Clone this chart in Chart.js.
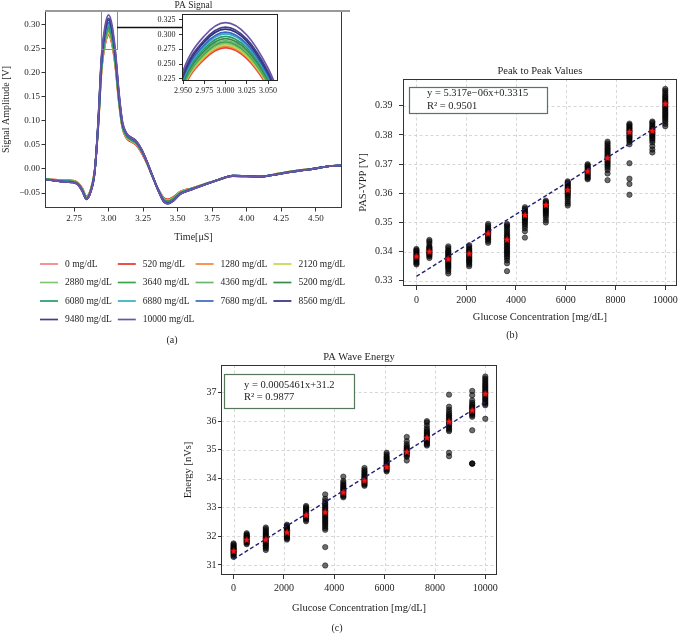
<!DOCTYPE html>
<html><head><meta charset="utf-8">
<script src="https://cdn.jsdelivr.net/npm/chart.js@4.4.1/dist/chart.umd.min.js"></script>
<style>
html,body{margin:0;padding:0;background:#fff;}
#wrap{position:relative;width:682px;height:635px;background:#fff;overflow:hidden;}
#wrap canvas{position:absolute;left:0;top:0;}
</style></head><body>
<div id="wrap">
<canvas id="cA" width="682" height="635"></canvas>
<canvas id="cI" width="682" height="635"></canvas>
<canvas id="cB" width="682" height="635"></canvas>
<canvas id="cC" width="682" height="635"></canvas>
</div>
<script>
// ---------------- DATA ----------------
const concentrations = [0, 520, 1280, 2120, 2880, 3640, 4360, 5200, 6080, 6880, 7680, 8560, 9480, 10000];
const seriesLabels = concentrations.map(c => c + ' mg/dL');
const seriesColors = ['#f28080', '#e53228', '#f3823f', '#c5d64a', '#82c874', '#3aa24a', '#6db56e', '#3b8a4a',
                      '#27996a', '#35aec0', '#3a66c4', '#2e2f7e', '#414189', '#6b55a8'];

// PA signal: time samples [µs]
const timeUs = [2.54, 2.60, 2.65, 2.70, 2.74, 2.78, 2.81, 2.84, 2.87, 2.90,
                2.925, 2.95, 2.975, 3.00, 3.025, 3.05, 3.075, 3.10,
                3.13, 3.16, 3.20, 3.24, 3.28, 3.32, 3.36, 3.40, 3.43, 3.47, 3.52, 3.60, 3.70,
                3.80, 3.90, 4.00, 4.10, 4.20, 4.30, 4.40, 4.50, 4.60, 4.69];
// which off-peak trace group each concentration follows
const seriesLevel = [0, 0, 1, 1, 1, 2, 2, 2, 3, 3, 3, 4, 4, 4];
// signal before the peak (2.54 .. 2.90)
const pulsePre = [
  [-0.020, -0.022, -0.023, -0.023, -0.024, -0.029, -0.040, -0.057, -0.043, -0.002],
  [-0.0205, -0.0225, -0.024, -0.024, -0.025, -0.030, -0.0415, -0.0585, -0.044, -0.003],
  [-0.021, -0.023, -0.0245, -0.025, -0.026, -0.031, -0.043, -0.060, -0.0455, -0.004],
  [-0.0215, -0.0235, -0.025, -0.026, -0.027, -0.032, -0.0445, -0.0615, -0.047, -0.005],
  [-0.022, -0.024, -0.026, -0.027, -0.028, -0.033, -0.046, -0.063, -0.048, -0.006]
];
// peak of each concentration (2.925 .. 3.10)
const pulsePeak = [
  [0.0860, 0.2067, 0.2581, 0.2775, 0.2595, 0.2109, 0.1388, 0.0860],
  [0.0863, 0.2075, 0.2590, 0.2785, 0.2604, 0.2117, 0.1393, 0.0863],
  [0.0868, 0.2086, 0.2604, 0.2800, 0.2618, 0.2128, 0.1400, 0.0868],
  [0.0876, 0.2105, 0.2627, 0.2825, 0.2641, 0.2147, 0.1413, 0.0876],
  [0.0884, 0.2123, 0.2651, 0.2850, 0.2665, 0.2166, 0.1425, 0.0884],
  [0.0891, 0.2142, 0.2674, 0.2875, 0.2688, 0.2185, 0.1438, 0.0891],
  [0.0899, 0.2161, 0.2697, 0.2900, 0.2712, 0.2204, 0.1450, 0.0899],
  [0.0908, 0.2183, 0.2725, 0.2930, 0.2740, 0.2227, 0.1465, 0.0908],
  [0.0921, 0.2213, 0.2762, 0.2970, 0.2777, 0.2257, 0.1485, 0.0921],
  [0.0933, 0.2242, 0.2799, 0.3010, 0.2814, 0.2288, 0.1505, 0.0933],
  [0.0942, 0.2265, 0.2827, 0.3040, 0.2842, 0.2310, 0.1520, 0.0942],
  [0.0958, 0.2302, 0.2874, 0.3090, 0.2889, 0.2348, 0.1545, 0.0958],
  [0.0969, 0.2328, 0.2906, 0.3125, 0.2922, 0.2375, 0.1563, 0.0969],
  [0.0992, 0.2384, 0.2976, 0.3200, 0.2992, 0.2432, 0.1600, 0.0992]
];
// signal after the peak (3.13 .. 4.69)
const pulsePost = [
  [0.064, 0.057, 0.050, 0.033, 0.010, -0.017, -0.042, -0.060, -0.063, -0.058, -0.047, -0.040, -0.031, -0.022, -0.015, -0.016, -0.016, -0.011, -0.006, -0.002, 0.001, 0.006, 0.007],
  [0.0665, 0.059, 0.052, 0.035, 0.011, -0.017, -0.043, -0.062, -0.065, -0.060, -0.048, -0.041, -0.031, -0.022, -0.015, -0.016, -0.016, -0.011, -0.006, -0.002, 0.001, 0.006, 0.007],
  [0.069, 0.0615, 0.054, 0.0365, 0.012, -0.0165, -0.0435, -0.064, -0.0675, -0.062, -0.0495, -0.0415, -0.0315, -0.022, -0.0145, -0.0155, -0.016, -0.0115, -0.0065, -0.0025, 0.001, 0.006, 0.007],
  [0.0715, 0.064, 0.056, 0.038, 0.013, -0.016, -0.044, -0.066, -0.070, -0.064, -0.051, -0.042, -0.032, -0.022, -0.014, -0.015, -0.016, -0.012, -0.007, -0.003, 0.001, 0.006, 0.007],
  [0.074, 0.066, 0.058, 0.040, 0.014, -0.016, -0.045, -0.068, -0.072, -0.066, -0.052, -0.043, -0.032, -0.022, -0.014, -0.015, -0.016, -0.012, -0.007, -0.003, 0.001, 0.006, 0.007]
];
const zoomBox = [2.943, 3.062, 0.25, 0.335];   // [x0, x1, y0, y1] of the zoomed region
const zoomLinkY = 0.295;

const aXTicks = [2.75, 3.00, 3.25, 3.50, 3.75, 4.00, 4.25, 4.50];
const aYTicks = [-0.05, 0.00, 0.05, 0.10, 0.15, 0.20, 0.25, 0.30];
const insetXTicks = [2.950, 2.975, 3.000, 3.025, 3.050];
const insetYTicks = [0.225, 0.250, 0.275, 0.300, 0.325];

// Peak-to-peak values [V]
const ppMeans = [0.3383, 0.3400, 0.3374, 0.3393, 0.3462, 0.3441, 0.3525, 0.3560, 0.3611, 0.3675, 0.3721, 0.3810, 0.3814, 0.3907];
const ppSamples = [
  [0.3356, 0.3360, 0.3364, 0.3368, 0.3372, 0.3376, 0.3380, 0.3383, 0.3386, 0.3390, 0.3394, 0.3398, 0.3402, 0.3405, 0.3409],
  [0.3378, 0.3384, 0.3388, 0.3391, 0.3394, 0.3397, 0.3400, 0.3403, 0.3406, 0.3409, 0.3412, 0.3415, 0.3419, 0.3428, 0.3435, 0.3440],
  [0.3325, 0.3333, 0.3340, 0.3345, 0.3349, 0.3353, 0.3357, 0.3361, 0.3365, 0.3369, 0.3373, 0.3377, 0.3381, 0.3385, 0.3389, 0.3393, 0.3397, 0.3401, 0.3405, 0.3412, 0.3418],
  [0.3350, 0.3356, 0.3362, 0.3366, 0.3370, 0.3374, 0.3378, 0.3382, 0.3386, 0.3390, 0.3394, 0.3398, 0.3402, 0.3406, 0.3410, 0.3416, 0.3422],
  [0.3430, 0.3436, 0.3442, 0.3446, 0.3450, 0.3454, 0.3458, 0.3462, 0.3466, 0.3470, 0.3474, 0.3478, 0.3483, 0.3489, 0.3495],
  [0.3333, 0.3360, 0.3370, 0.3378, 0.3384, 0.3390, 0.3395, 0.3400, 0.3405, 0.3410, 0.3415, 0.3420, 0.3425, 0.3430, 0.3435, 0.3440, 0.3445, 0.3450, 0.3455, 0.3460, 0.3466, 0.3472, 0.3478, 0.3485, 0.3490, 0.3495],
  [0.3448, 0.3470, 0.3480, 0.3488, 0.3495, 0.3500, 0.3505, 0.3510, 0.3514, 0.3518, 0.3522, 0.3526, 0.3530, 0.3534, 0.3538, 0.3542, 0.3547, 0.3552],
  [0.3500, 0.3508, 0.3518, 0.3525, 0.3530, 0.3535, 0.3539, 0.3543, 0.3547, 0.3551, 0.3555, 0.3559, 0.3563, 0.3567, 0.3571, 0.3575],
  [0.3558, 0.3565, 0.3572, 0.3580, 0.3586, 0.3592, 0.3597, 0.3601, 0.3605, 0.3609, 0.3613, 0.3617, 0.3621, 0.3625, 0.3629, 0.3633, 0.3637, 0.3641],
  [0.3648, 0.3652, 0.3656, 0.3660, 0.3664, 0.3668, 0.3672, 0.3676, 0.3680, 0.3684, 0.3688, 0.3692, 0.3696, 0.3700],
  [0.3645, 0.3668, 0.3680, 0.3688, 0.3694, 0.3699, 0.3704, 0.3709, 0.3714, 0.3719, 0.3724, 0.3729, 0.3734, 0.3739, 0.3744, 0.3749, 0.3754, 0.3759, 0.3765, 0.3771, 0.3777],
  [0.3595, 0.3632, 0.3650, 0.3703, 0.3768, 0.3776, 0.3782, 0.3787, 0.3791, 0.3795, 0.3799, 0.3803, 0.3807, 0.3811, 0.3815, 0.3819, 0.3823, 0.3827, 0.3831, 0.3835, 0.3839],
  [0.3740, 0.3750, 0.3762, 0.3775, 0.3782, 0.3788, 0.3793, 0.3797, 0.3801, 0.3805, 0.3809, 0.3813, 0.3817, 0.3821, 0.3825, 0.3830, 0.3836, 0.3842, 0.3846],
  [0.3830, 0.3838, 0.3846, 0.3852, 0.3858, 0.3863, 0.3868, 0.3873, 0.3878, 0.3883, 0.3888, 0.3893, 0.3898, 0.3903, 0.3908, 0.3913, 0.3918, 0.3923, 0.3928, 0.3933, 0.3938, 0.3945, 0.3952, 0.3958]
];
const ppFit = [5.317e-6, 0.3315];          // slope, intercept
const ppFitText = ['y = 5.317e\u221206x+0.3315', 'R\u00b2 = 0.9501'];
const bXTicks = [0, 2000, 4000, 6000, 8000, 10000];
const bYTicks = [0.33, 0.34, 0.35, 0.36, 0.37, 0.38, 0.39];

// PA wave energy [nVs]
const enMeans = [31.48, 31.87, 31.88, 32.13, 32.73, 32.83, 33.52, 33.93, 34.40, 34.93, 35.42, 35.98, 36.37, 36.95];
const enSamples = [
  [31.28, 31.32, 31.36, 31.40, 31.43, 31.46, 31.49, 31.52, 31.55, 31.58, 31.61, 31.64, 31.67, 31.71, 31.75],
  [31.72, 31.76, 31.79, 31.82, 31.85, 31.88, 31.91, 31.94, 31.97, 32.00, 32.03, 32.06, 32.10],
  [31.52, 31.58, 31.63, 31.67, 31.71, 31.75, 31.79, 31.83, 31.87, 31.91, 31.95, 31.99, 32.03, 32.07, 32.11, 32.15, 32.20, 32.25, 32.30],
  [31.88, 31.92, 31.96, 32.00, 32.04, 32.08, 32.12, 32.16, 32.20, 32.24, 32.28, 32.32, 32.36, 32.40],
  [32.52, 32.57, 32.61, 32.65, 32.69, 32.73, 32.77, 32.81, 32.85, 32.89, 32.93, 32.97, 33.01, 33.05],
  [30.98, 31.62, 32.22, 32.28, 32.34, 32.40, 32.45, 32.50, 32.55, 32.60, 32.65, 32.70, 32.75, 32.80, 32.85, 32.90, 32.95, 33.00, 33.05, 33.10, 33.15, 33.22, 33.30, 33.45],
  [33.35, 33.39, 33.43, 33.47, 33.51, 33.55, 33.59, 33.63, 33.67, 33.71, 33.75, 33.80, 33.86, 33.92, 34.07],
  [33.75, 33.79, 33.83, 33.87, 33.91, 33.95, 33.99, 34.03, 34.07, 34.11, 34.15, 34.20, 34.25, 34.30, 34.37],
  [34.25, 34.29, 34.33, 34.37, 34.41, 34.45, 34.49, 34.53, 34.57, 34.61, 34.65, 34.69, 34.73, 34.78, 34.84, 34.90],
  [34.63, 34.76, 34.80, 34.84, 34.88, 34.92, 34.96, 35.00, 35.04, 35.08, 35.13, 35.20, 35.30, 35.45],
  [35.15, 35.19, 35.23, 35.27, 35.31, 35.35, 35.39, 35.43, 35.47, 35.51, 35.55, 35.59, 35.63, 35.68, 35.75, 35.85, 35.95, 36.00],
  [34.78, 34.90, 35.65, 35.70, 35.75, 35.80, 35.85, 35.90, 35.95, 36.00, 36.05, 36.10, 36.15, 36.20, 36.25, 36.32, 36.40, 36.50, 36.92],
  [34.52, 34.52, 34.53, 35.68, 36.15, 36.20, 36.25, 36.29, 36.33, 36.37, 36.41, 36.45, 36.49, 36.53, 36.58, 36.64, 36.72, 36.90, 37.05],
  [36.08, 36.55, 36.60, 36.65, 36.70, 36.75, 36.80, 36.85, 36.90, 36.95, 37.00, 37.05, 37.10, 37.15, 37.20, 37.25, 37.30, 37.36, 37.42, 37.48, 37.55]
];
const enFit = [0.0005461, 31.2];
const enFitText = ['y = 0.0005461x+31.2', 'R\u00b2 = 0.9877'];
const cXTicks = [0, 2000, 4000, 6000, 8000, 10000];
const cYTicks = [31, 32, 33, 34, 35, 36, 37];

// ---------------- HELPERS ----------------
const FF = "'Liberation Serif','DejaVu Serif','Times New Roman',serif";
const TXT = '#1e1e1e';
const fmtNum = (v, d) => { let s = Number(v).toFixed(d); if (/^-0(\.0*)?$/.test(s)) s = s.slice(1); return s.replace('-', '\u2212'); };
const fixTicks = vals => scale => { scale.ticks = vals.map(v => ({value: v})); };
const fixW = w => s => { s.width = w; };
const fixH = h => s => { s.height = h; };
function font(size) { return {family: FF, size: size, weight: 'normal'}; }
function frame(ctx, ca, color) {
  ctx.save(); ctx.strokeStyle = color || '#333'; ctx.lineWidth = 1; ctx.setLineDash([]);
  ctx.strokeRect(Math.round(ca.left) + 0.5, Math.round(ca.top) + 0.5, Math.round(ca.right - ca.left) - 1, Math.round(ca.bottom - ca.top) - 1);
  ctx.restore();
}
function text(ctx, str, x, y, size, align) {
  ctx.save(); ctx.fillStyle = TXT; ctx.font = size + 'px ' + FF; ctx.textAlign = align || 'center'; ctx.textBaseline = 'middle';
  ctx.fillText(str, x, y); ctx.restore();
}
function dashedGrid(chart) {
  const {ctx, chartArea: ca, scales: {x, y}} = chart;
  ctx.save(); ctx.strokeStyle = '#cdcdcd'; ctx.lineWidth = 0.8; ctx.setLineDash([3, 2.5]);
  x.ticks.forEach(t => { const p = Math.round(x.getPixelForValue(t.value)) + 0.5; ctx.beginPath(); ctx.moveTo(p, ca.top); ctx.lineTo(p, ca.bottom); ctx.stroke(); });
  y.ticks.forEach(t => { const p = Math.round(y.getPixelForValue(t.value)) + 0.5; ctx.beginPath(); ctx.moveTo(ca.left, p); ctx.lineTo(ca.right, p); ctx.stroke(); });
  ctx.restore();
}
function fitBox(ctx, x, y, w, h, lines, tx, ty1, ty2) {
  ctx.save(); ctx.fillStyle = '#fff'; ctx.strokeStyle = '#58775a'; ctx.lineWidth = 1.2;
  ctx.fillRect(x, y, w, h); ctx.strokeRect(x + 0.5, y + 0.5, w, h); ctx.restore();
  text(ctx, lines[0], tx, ty1, 10.5, 'left');
  text(ctx, lines[1], tx, ty2, 10.5, 'left');
}
function makeStar(r, color) {
  const c = document.createElement('canvas'); const s = Math.ceil(r * 2 + 2);
  c.width = s; c.height = s; const g = c.getContext('2d'); g.fillStyle = color; g.beginPath();
  for (let k = 0; k < 10; k++) {
    const rad = k % 2 === 0 ? r : r * 0.42; const a = -Math.PI / 2 + k * Math.PI / 5;
    const px = s / 2 + rad * Math.cos(a), py = s / 2 + rad * Math.sin(a);
    if (k === 0) g.moveTo(px, py); else g.lineTo(px, py);
  }
  g.closePath(); g.fill(); return c;
}
const starImg = makeStar(4, '#ff1414');
Chart.defaults.font.family = FF;
Chart.defaults.color = TXT;

function pulseDatasets(width) {
  return concentrations.map((c, i) => {
    const lvl = seriesLevel[i];
    const ys = [...pulsePre[lvl], ...pulsePeak[i], ...pulsePost[lvl]];
    return {
      label: seriesLabels[i], data: timeUs.map((t, k) => ({x: t, y: ys[k]})),
      borderColor: seriesColors[i], backgroundColor: seriesColors[i], borderWidth: width,
      pointRadius: 0, cubicInterpolationMode: 'monotone', fill: false,
      order: concentrations.length - 1 - i
    };
  });
}
function axis(opts) {
  const o = {
    type: 'linear', min: opts.min, max: opts.max,
    afterBuildTicks: fixTicks(opts.ticks),
    grid: {display: true, drawOnChartArea: false, drawTicks: true, tickLength: opts.tl, color: '#333', tickWidth: 1},
    border: {display: false},
    ticks: {font: font(opts.fs), color: TXT, padding: opts.pad, maxRotation: 0, minRotation: 0, autoSkip: false, callback: opts.cb}
  };
  if (opts.w !== undefined) o.afterFit = fixW(opts.w);
  if (opts.h !== undefined) o.afterFit = fixH(opts.h);
  if (opts.title) o.title = {display: true, text: opts.title, font: font(opts.tfs), color: TXT, padding: opts.tpad};
  return o;
}
const baseOpts = {responsive: false, animation: false, devicePixelRatio: 1, events: [],
  plugins: {legend: {display: false}, tooltip: {enabled: false}, title: {display: false}}};

// ---------------- CHART (a) ----------------
const plugA = {
  id: 'decorA',
  afterDatasetsDraw(chart) {
    const {ctx, chartArea: ca, scales: {x, y}} = chart;
    const x1 = x.getPixelForValue(zoomBox[0]), x2 = x.getPixelForValue(zoomBox[1]);
    const y1 = Math.max(ca.top, y.getPixelForValue(zoomBox[3])), y2 = y.getPixelForValue(zoomBox[2]);
    ctx.save(); ctx.strokeStyle = '#8a8a8a'; ctx.lineWidth = 1;
    ctx.strokeRect(Math.round(x1) + 0.5, Math.round(y1) + 0.5, Math.round(x2 - x1), Math.round(y2 - y1)); ctx.restore();
  },
  afterDraw(chart) {
    const {ctx, chartArea: ca} = chart;
    frame(ctx, ca, '#3a3a3a');
    ctx.save(); ctx.strokeStyle = '#9a9a9a'; ctx.lineWidth = 2; ctx.beginPath();
    ctx.moveTo(ca.left, ca.top); ctx.lineTo(ca.right + 8, ca.top); ctx.stroke(); ctx.restore();
    text(ctx, 'PA Signal', (ca.left + ca.right) / 2, ca.top - 6, 9.5);
    // legend
    chart.data.datasets.forEach((ds, i) => {
      const col = i % 4, row = Math.floor(i / 4);
      const lx = 40 + col * 77.8, ly = 264 + row * 18.5;
      ctx.save(); ctx.strokeStyle = ds.borderColor; ctx.lineWidth = 1.7; ctx.beginPath();
      ctx.moveTo(lx, ly); ctx.lineTo(lx + 18, ly); ctx.stroke(); ctx.restore();
      text(ctx, ds.label, lx + 25, ly, 9.5, 'left');
    });
    text(ctx, '(a)', 172, 340, 10);
  }
};
const chartA = new Chart(document.getElementById('cA'), {
  type: 'line',
  data: {datasets: pulseDatasets(1.8)},
  options: Object.assign({}, baseOpts, {
    layout: {padding: {left: 0, top: 11, right: 340, bottom: 385}},
    scales: {
      x: axis({min: 2.54, max: 4.69, ticks: aXTicks, tl: 3.5, fs: 9, pad: 2, h: 42, cb: v => fmtNum(v, 2),
               title: 'Time[\u03bcS]', tfs: 10, tpad: {top: 0, bottom: 7}}),
      y: axis({min: -0.081, max: 0.328, ticks: aYTicks, tl: 3.5, fs: 9, pad: 1.5, w: 45, cb: v => fmtNum(v, 2),
               title: 'Signal Amplitude [V]', tfs: 10, tpad: {top: 0, bottom: 0}})
    }
  }),
  plugins: [plugA]
});

// ---------------- INSET ----------------
const plugI = {
  id: 'decorI',
  beforeDatasetsDraw(chart) {
    const {ctx, chartArea: ca} = chart;
    ctx.save(); ctx.fillStyle = '#fff'; ctx.fillRect(ca.left, ca.top, ca.right - ca.left, ca.bottom - ca.top); ctx.restore();
  },
  afterDraw(chart) {
    const {ctx, chartArea: ca} = chart;
    frame(ctx, ca, '#222');
    const mx = chartA.scales.x.getPixelForValue(zoomBox[1]);
    const my = Math.round(chartA.scales.y.getPixelForValue(zoomLinkY)) + 0.5;
    ctx.save(); ctx.strokeStyle = '#111'; ctx.lineWidth = 1.3; ctx.beginPath();
    ctx.moveTo(mx, my); ctx.lineTo(ca.left, my); ctx.stroke(); ctx.restore();
  }
};
const chartI = new Chart(document.getElementById('cI'), {
  type: 'line',
  data: {datasets: pulseDatasets(1.7)},
  options: Object.assign({}, baseOpts, {
    layout: {padding: {left: 150, top: 14, right: 404, bottom: 534}},
    scales: {
      x: axis({min: 2.9488, max: 3.0617, ticks: insetXTicks, tl: 3, fs: 8, pad: 2, h: 20, cb: v => fmtNum(v, 3)}),
      y: axis({min: 0.2216, max: 0.3347, ticks: insetYTicks, tl: 3, fs: 8, pad: 3.5, w: 32, cb: v => fmtNum(v, 3)})
    }
  }),
  plugins: [plugI]
});

// ---------------- scatter panels ----------------
function scatterDatasets(samples, means, fit) {
  const pts = concentrations.flatMap((c, i) => samples[i].map(v => ({x: c, y: v})));
  const mpts = concentrations.map((c, i) => ({x: c, y: means[i]}));
  const x0 = concentrations[0], x1 = concentrations[concentrations.length - 1];
  const trend = [{x: x0, y: fit[1] + fit[0] * x0}, {x: x1, y: fit[1] + fit[0] * x1}];
  return [
    {type: 'scatter', data: pts, pointRadius: 2.7, pointBackgroundColor: 'rgba(10,10,10,0.6)',
     pointBorderColor: 'rgba(0,0,0,0.6)', pointBorderWidth: 0.8, order: 2},
    {type: 'line', data: trend, borderColor: '#1f206e', borderWidth: 1.4, borderDash: [4, 2.5], pointRadius: 0, fill: false, order: 1},
    {type: 'scatter', data: mpts, pointStyle: starImg, pointRadius: 4, order: 0}
  ];
}
const plugB = {
  id: 'decorB',
  beforeDatasetsDraw(chart) { dashedGrid(chart); },
  afterDraw(chart) {
    const {ctx, chartArea: ca} = chart;
    frame(ctx, ca, '#333');
    text(ctx, 'Peak to Peak Values', (ca.left + ca.right) / 2, ca.top - 8, 10.5);
    fitBox(ctx, ca.left + 6, ca.top + 8, 138, 26, ppFitText, ca.left + 24, ca.top + 14.5, ca.top + 27);
    text(ctx, '(b)', 512, 335, 10);
  }
};
const chartB = new Chart(document.getElementById('cB'), {
  type: 'scatter',
  data: {datasets: scatterDatasets(ppSamples, ppMeans, ppFit)},
  options: Object.assign({}, baseOpts, {
    layout: {padding: {left: 355, top: 79, right: 2, bottom: 309}},
    scales: {
      x: axis({min: -540, max: 10460, ticks: bXTicks, tl: 4, fs: 10, pad: 4, h: 40, cb: v => String(v),
               title: 'Glucose Concentration [mg/dL]', tfs: 10.5, tpad: {top: 0, bottom: 2}}),
      y: axis({min: 0.3282, max: 0.3992, ticks: bYTicks, tl: 4, fs: 10, pad: 6.5, w: 48, cb: v => fmtNum(v, 2),
               title: 'PAS-VPP [V]', tfs: 10.5, tpad: {top: 2, bottom: 0}})
    }
  }),
  plugins: [plugB]
});

const plugC = {
  id: 'decorC',
  beforeDatasetsDraw(chart) { dashedGrid(chart); },
  afterDraw(chart) {
    const {ctx, chartArea: ca} = chart;
    frame(ctx, ca, '#333');
    text(ctx, 'PA Wave Energy', (ca.left + ca.right) / 2, ca.top - 8, 10.5);
    fitBox(ctx, ca.left + 3, ca.top + 9, 130, 34, enFitText, ca.left + 23, ca.top + 20, ca.top + 32.5);
    text(ctx, '(c)', 337, 628, 10);
  }
};
const chartC = new Chart(document.getElementById('cC'), {
  type: 'scatter',
  data: {datasets: scatterDatasets(enSamples, enMeans, enFit)},
  options: Object.assign({}, baseOpts, {
    layout: {padding: {left: 180, top: 365, right: 185, bottom: 20}},
    scales: {
      x: axis({min: -500, max: 10465, ticks: cXTicks, tl: 4, fs: 10, pad: 3.5, h: 40, cb: v => String(v),
               title: 'Glucose Concentration [mg/dL]', tfs: 10.5, tpad: {top: 0, bottom: 0}}),
      y: axis({min: 30.65, max: 37.95, ticks: cYTicks, tl: 3, fs: 10, pad: 1.5, w: 41, cb: v => String(v),
               title: 'Energy [nVs]', tfs: 10.5, tpad: {top: 2, bottom: 0}})
    }
  }),
  plugins: [plugC]
});
</script>
</body></html>
